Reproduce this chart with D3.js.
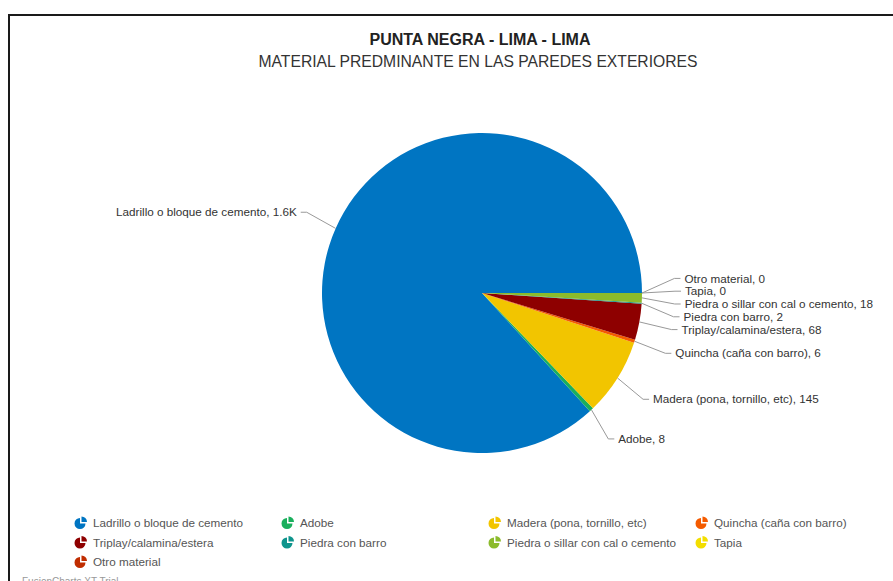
<!DOCTYPE html>
<html>
<head>
<meta charset="utf-8">
<script src="https://cdn.jsdelivr.net/npm/d3@7"></script>
<style>
  body { margin: 0; background: #fff; }
  svg { display: block; font-family: "Liberation Sans", Arial, sans-serif; }
</style>
</head>
<body>
<div id="chart"></div>
<script>
var categories = [
    "Ladrillo o bloque de cemento",
    "Adobe",
    "Madera (pona, tornillo, etc)",
    "Quincha (caña con barro)",
    "Triplay/calamina/estera",
    "Piedra con barro",
    "Piedra o sillar con cal o cemento",
    "Tapia",
    "Otro material"
];
var values = [1620, 8, 145, 6, 68, 2, 18, 0, 0];
var colors = ["#0075c2", "#1aaf5d", "#f2c500", "#f45b00", "#8e0000",
              "#0e948c", "#8cbb2c", "#f3de00", "#c02d00"];
var title = "PUNTA NEGRA - LIMA - LIMA";
var subtitle = "MATERIAL PREDMINANTE EN LAS PAREDES EXTERIORES";

function init(){
    var w = 893;
    var h = 581;
    var cx = 482, cy = 293, r = 160;
    var labelR = 200, elbowR = 193;

    var data = categories.map(function(c, i) {
        return {name: c, value: values[i], color: colors[i], idx: i};
    });

    function fmt(v) {
        return v >= 1000 ? (v / 1000).toFixed(1) + "K" : String(v);
    }

    var svg = d3.select("#chart")
                .append("svg")
                .attr("width", w)
                .attr("height", h);

    // frame
    svg.append("rect")
        .attr("x", 9).attr("y", 15)
        .attr("width", 900).attr("height", 600)
        .attr("fill", "none")
        .attr("stroke", "#1a1a1a")
        .attr("stroke-width", 2);

    svg.append("text")
        .attr("x", 480).attr("y", 45)
        .attr("text-anchor", "middle")
        .style("font-size", "16px")
        .style("font-weight", "bold")
        .attr("fill", "#222")
        .text(title);

    svg.append("text")
        .attr("x", 478).attr("y", 67)
        .attr("text-anchor", "middle")
        .style("font-size", "15.7px")
        .attr("fill", "#333")
        .text(subtitle);

    // pie starts at 3 o'clock and runs counterclockwise
    var pie = d3.pie()
                .sort(null)
                .value(function(d) { return d.value; })
                .startAngle(Math.PI / 2)
                .endAngle(Math.PI / 2 - 2 * Math.PI);

    var arc = d3.arc().innerRadius(0).outerRadius(r);
    var arcs = pie(data);

    var g = svg.append("g").attr("transform", "translate(" + cx + "," + cy + ")");

    g.selectAll("path")
        .data(arcs)
        .enter()
        .append("path")
        .attr("d", arc)
        .attr("fill", function(d) { return d.data.color; });

    // label layout
    var labels = arcs.map(function(d) {
        var a = (d.startAngle + d.endAngle) / 2 - Math.PI / 2; // screen angle from 3 o'clock
        return {
            d: d,
            a: a,
            right: Math.cos(a) >= 0,
            y: labelR * Math.sin(a)
        };
    });

    function relax(list, gap) {
        // ties: later slices sit higher (counterclockwise)
        list.sort(function(p, q) { return (p.y - q.y) || (q.d.data.idx - p.d.data.idx); });
        for (var it = 0; it < 300; it++) {
            var moved = false;
            for (var i = 1; i < list.length; i++) {
                var diff = list[i].y - list[i - 1].y;
                if (diff < gap - 0.01) {
                    var push = (gap - diff) / 2;
                    list[i].y += push;
                    list[i - 1].y -= push;
                    moved = true;
                }
            }
            if (!moved) break;
        }
    }
    relax(labels.filter(function(l) { return l.right; }), 12.8);
    relax(labels.filter(function(l) { return !l.right; }), 12.8);

    labels.forEach(function(l) {
        var s = l.right ? 1 : -1;
        var ex = s * Math.sqrt(Math.max(0, elbowR * elbowR - l.y * l.y));
        l.ex = ex;
        l.sx = r * Math.cos(l.a);
        l.sy = r * Math.sin(l.a);
        l.hx = ex + s * 6;
        l.tx = ex + s * 10;
    });

    g.selectAll("polyline")
        .data(labels)
        .enter()
        .append("polyline")
        .attr("points", function(l) {
            return [[l.sx, l.sy], [l.ex, l.y], [l.hx, l.y]].join(" ");
        })
        .attr("fill", "none")
        .attr("stroke", "#999")
        .attr("stroke-width", 1);

    g.selectAll("text.lbl")
        .data(labels)
        .enter()
        .append("text")
        .attr("class", "lbl")
        .attr("x", function(l) { return l.tx; })
        .attr("y", function(l) { return l.y; })
        .attr("dy", "0.35em")
        .attr("text-anchor", function(l) { return l.right ? "start" : "end"; })
        .style("font-size", "11.7px")
        .attr("fill", "#333")
        .text(function(l) { return l.d.data.name + ", " + fmt(l.d.data.value); });

    // legend
    var colX = d3.scalePoint().domain(d3.range(4)).range([75, 696]);
    var rowY = d3.scalePoint().domain(d3.range(3)).range([523, 562]);

    var iconArc = d3.arc().innerRadius(0).outerRadius(5.5);

    var items = svg.selectAll("g.leg")
        .data(data)
        .enter()
        .append("g")
        .attr("class", "leg")
        .attr("transform", function(d, i) {
            return "translate(" + colX(i % 4) + "," + rowY(Math.floor(i / 4)) + ")";
        });

    items.append("path")
        .attr("transform", "translate(5,0.5)")
        .attr("d", iconArc({startAngle: Math.PI / 2, endAngle: 2 * Math.PI}))
        .attr("fill", function(d) { return d.color; });

    items.append("path")
        .attr("transform", "translate(6.5,-1)")
        .attr("d", iconArc({startAngle: 0, endAngle: Math.PI / 2}))
        .attr("fill", function(d) { return d.color; });

    items.append("text")
        .attr("x", 18)
        .attr("y", 0)
        .attr("dy", "0.35em")
        .style("font-size", "11.7px")
        .attr("fill", "#555")
        .text(function(d) { return d.name; });

    svg.append("text")
        .attr("x", 22).attr("y", 585)
        .style("font-size", "10px")
        .attr("fill", "#999")
        .text("FusionCharts XT Trial");
}
window.onload = init;
</script>
</body>
</html>
